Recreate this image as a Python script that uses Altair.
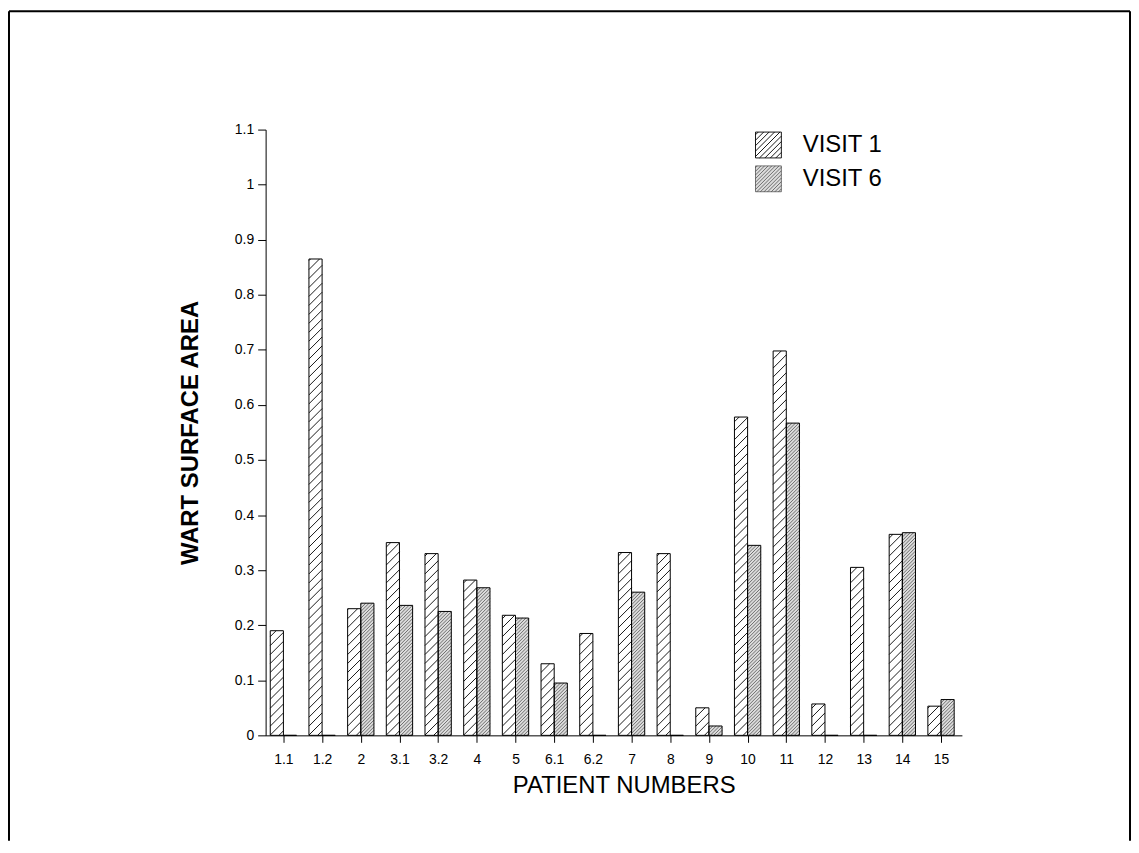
import altair as alt
import pandas as pd

# ---------------- data ----------------
patients = ["1.1", "1.2", "2", "3.1", "3.2", "4", "5", "6.1", "6.2",
            "7", "8", "9", "10", "11", "12", "13", "14", "15"]
visit1 = [0.19, 0.865, 0.23, 0.35, 0.33, 0.282, 0.218, 0.13, 0.185,
          0.332, 0.33, 0.05, 0.578, 0.698, 0.057, 0.305, 0.365, 0.053]
visit6 = [0.0, 0.0, 0.24, 0.236, 0.225, 0.268, 0.213, 0.095, 0.0,
          0.26, 0.0, 0.017, 0.345, 0.567, 0.0, 0.0, 0.368, 0.065]
series_names = ["VISIT 1", "VISIT 6"]
y_tick_values = [0, 0.1, 0.2, 0.3, 0.4, 0.5, 0.6, 0.7, 0.8, 0.9, 1, 1.1]

# ---------------- layout / style ----------------
FONT = "Liberation Sans"
W, H = 700, 609
X_DOMAIN = [-0.46, 17.54]
Y_DOMAIN = [0, 1.1]
BAR_W = 0.34
PX_X = W / (X_DOMAIN[1] - X_DOMAIN[0])
PX_Y = H / (Y_DOMAIN[1] - Y_DOMAIN[0])
HATCH_GAP = {"VISIT 1": 9.0, "VISIT 6": 3.4}

# bar table built from the arrays
rows = []
for i, p in enumerate(patients):
    for s, vals in zip(series_names, (visit1, visit6)):
        x0 = i - BAR_W if s == "VISIT 1" else i
        rows.append(dict(patient=p, series=s, value=vals[i], x0=x0, x1=x0 + BAR_W))
bars = pd.DataFrame(rows)

# hatch lines (45 degrees in screen space), clipped to each bar
hatch_rows = []
for r in rows:
    w = BAR_W * PX_X
    h = r["value"] * PX_Y
    g = HATCH_GAP[r["series"]]
    c = -w + g / 2
    while c < h:
        xa = max(0.0, -c)
        xb = min(w, h - c)
        if xb > xa:
            hatch_rows.append(dict(series=r["series"],
                                   x0=r["x0"] + xa / PX_X, x1=r["x0"] + xb / PX_X,
                                   value=(xa + c) / PX_Y, v1=(xb + c) / PX_Y))
        c += g
hatch = pd.DataFrame(hatch_rows)


def hatch_symbol(step):
    parts = ["M-1,-1L1,-1L1,1L-1,1Z"]
    c = -2 + step / 2
    while c < 2:
        xa = max(-1.0, c - 1)
        xb = min(1.0, c + 1)
        parts.append("M%.3f,%.3fL%.3f,%.3f" % (xa, -xa + c, xb, -xb + c))
        c += step
    return "".join(parts)


fill_scale = alt.Scale(domain=series_names, range=["white", "#dcdcdc"])
shape_scale = alt.Scale(domain=series_names, range=[hatch_symbol(0.42), hatch_symbol(0.28)])
x_scale = alt.Scale(domain=X_DOMAIN, nice=False, zero=False)
y_scale = alt.Scale(domain=Y_DOMAIN, nice=False, zero=False)

label_expr = "[" + ",".join("'%s'" % p for p in patients) + "][datum.value]"
x_axis = alt.Axis(values=list(range(len(patients))), labelExpr=label_expr,
                  title="PATIENT NUMBERS", titleFontSize=24, titleFontWeight="normal",
                  titlePadding=7, titleX=360, labelFontSize=14, labelPadding=10,
                  tickSize=7, grid=False, labelFlush=False)
y_axis = alt.Axis(values=y_tick_values, format="~g", title="WART SURFACE AREA",
                  titleFontSize=24, titleFontWeight="bold", titlePadding=32,
                  labelFontSize=14, labelPadding=4, tickSize=8, grid=False)

legend = alt.Legend(title=None, orient="none", legendX=492, legendY=2,
                    symbolSize=676, symbolStrokeColor="black", symbolStrokeWidth=1,
                    symbolOpacity=1, labelFontSize=24, labelFont=FONT,
                    labelColor="black", labelOffset=21, rowPadding=4, padding=0)

X = alt.X("x0:Q", scale=x_scale, axis=x_axis)
Y = alt.Y("value:Q", scale=y_scale, axis=y_axis)

base_bars = alt.Chart(bars).mark_rect().encode(
    x=X, x2="x1:Q", y=Y, y2=alt.datum(0),
    fill=alt.Fill("series:N", scale=fill_scale, legend=legend),
)

hatch_layer = alt.Chart(hatch).mark_rule().encode(
    x=X, x2="x1:Q", y=Y, y2="v1:Q",
    stroke=alt.Stroke("series:N", scale=alt.Scale(domain=series_names, range=["black", "#333333"]), legend=None),
    strokeWidth=alt.StrokeWidth("series:N", scale=alt.Scale(domain=series_names, range=[0.9, 0.65]), legend=None),
)

outline = alt.Chart(bars).mark_rect(fillOpacity=0, stroke="black", strokeWidth=1).encode(
    x=X, x2="x1:Q", y=Y, y2=alt.datum(0),
)

legend_pts = alt.Chart(bars).transform_filter("datum.value < 0").mark_point(filled=True).encode(
    x=X, y=Y,
    fill=alt.Fill("series:N", scale=fill_scale, legend=legend),
    shape=alt.Shape("series:N", scale=shape_scale, legend=legend),
)

frame_data = alt.Data(values=[{}])
frame_left = alt.Chart(frame_data).mark_rule(color="black", strokeWidth=2).encode(
    x=alt.value(-258), y=alt.value(-119), y2=alt.value(715))
frame_top = alt.Chart(frame_data).mark_rule(color="black", strokeWidth=2).encode(
    x=alt.value(-258), x2=alt.value(869), y=alt.value(-119))
frame_right = alt.Chart(frame_data).mark_rule(color="black", strokeWidth=2).encode(
    x=alt.value(869), y=alt.value(-119), y2=alt.value(715))

chart = alt.layer(base_bars, hatch_layer, outline, legend_pts,
                  frame_left, frame_top, frame_right).properties(
    width=W, height=H, padding=0, background="white"
).configure_view(stroke=None).configure_axis(
    labelFont=FONT, titleFont=FONT, labelColor="black", titleColor="black",
    domainColor="black", tickColor="black", domainWidth=1, tickWidth=1
).configure_legend(labelFont=FONT)

chart.save("out.html", embed_options={"renderer": "svg", "actions": False})
